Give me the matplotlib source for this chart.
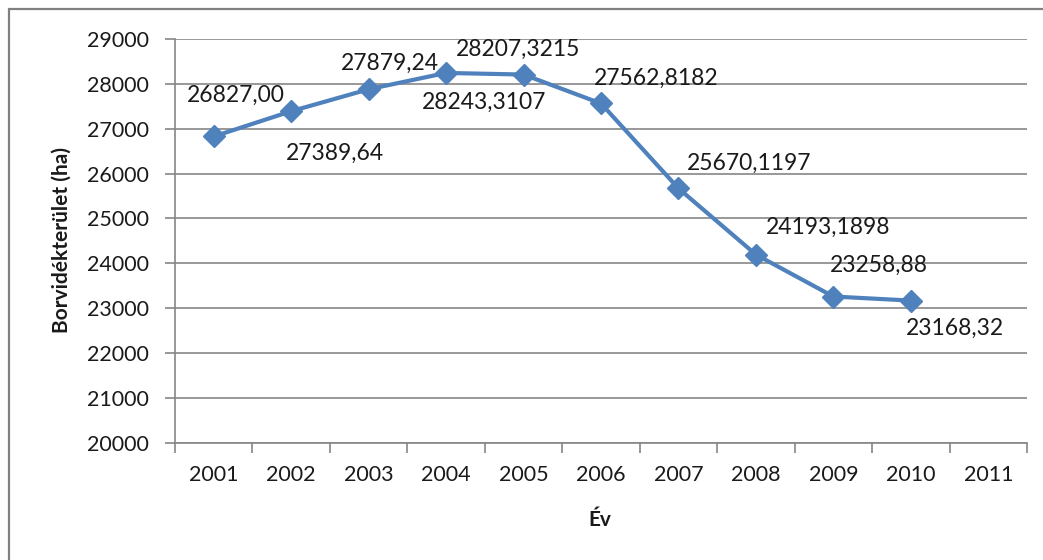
import matplotlib.pyplot as plt
from matplotlib.patches import Rectangle

# data
years = ['2001', '2002', '2003', '2004', '2005', '2006', '2007', '2008', '2009', '2010', '2011']
area = [26827.00, 27389.64, 27879.24, 28243.3107, 28207.3215, 27562.8182,
        25670.1197, 24193.1898, 23258.88, 23168.32]
area_labels = ['26827,00', '27389,64', '27879,24', '28243,3107', '28207,3215',
               '27562,8182', '25670,1197', '24193,1898', '23258,88', '23168,32']
# label offsets (pixels) from each point, like the manual placement in Excel
label_offsets = [(22, 41), (44, -42), (21, 26), (38, -29), (-5, 25),
                 (55, 25), (71, 25), (72, 27), (46, 31), (44, -28)]

plt.rcParams['font.family'] = ['Lato', 'DejaVu Sans']
BLUE = '#4F81BD'
GRAY = '#868686'
TXT = '#1a1a1a'

fig = plt.figure(figsize=(10.43, 5.6), dpi=100)
ax = fig.add_axes([175 / 1043, 1 - 442.7 / 560, (1027 - 175) / 1043, (442.7 - 39) / 560])

# outer chart border (cut off at right/bottom like the screenshot)
fig.patches.append(Rectangle((9 / 1043, -0.1), 1.2, (551 / 560) + 0.1, transform=fig.transFigure,
                             fill=False, edgecolor='#808080', linewidth=1.6))

x = list(range(len(area)))
ax.plot(x, area, color=BLUE, linewidth=3, marker='D', markersize=11,
        markerfacecolor=BLUE, markeredgecolor=BLUE, zorder=3)

for xi, yi, txt, (dx, dy) in zip(x, area, area_labels, label_offsets):
    ax.annotate(txt, (xi, yi), xytext=(dx, dy), textcoords='offset pixels',
                ha='center', va='center', fontsize=16.5, color=TXT)

ax.set_xlim(-0.5, len(years) - 0.5)
ax.set_ylim(20000, 29000)
ax.set_yticks(range(20000, 29001, 1000))
ax.yaxis.grid(True, color=GRAY, linewidth=1.2)
ax.set_axisbelow(True)

# category axis: ticks on the boundaries, labels centred
ax.set_xticks([i - 0.5 for i in range(len(years) + 1)])
ax.set_xticklabels([])
ax.set_xticks(range(len(years)), minor=True)
ax.set_xticklabels(years, minor=True)
ax.tick_params(axis='x', which='major', length=7, color=GRAY, width=1.2)
ax.tick_params(axis='x', which='minor', length=0, pad=16, labelsize=15.5, labelcolor=TXT)
ax.tick_params(axis='y', length=7, color=GRAY, width=1.2, pad=12, labelsize=15.5, labelcolor=TXT)

for side in ['top', 'right']:
    ax.spines[side].set_visible(False)
for side in ['left', 'bottom']:
    ax.spines[side].set_color(GRAY)
    ax.spines[side].set_linewidth(1.2)

fig.text(600 / 1043, 1 - 520 / 560, 'Év', ha='center', va='center',
         fontsize=15, fontweight='bold', color=TXT)
fig.text(62 / 1043, 1 - 240 / 560, 'Borvidékterület (ha)', ha='center', va='center',
         rotation=90, fontsize=15, fontweight='bold', color=TXT)

plt.savefig('out.png', dpi=100)
plt.close()
